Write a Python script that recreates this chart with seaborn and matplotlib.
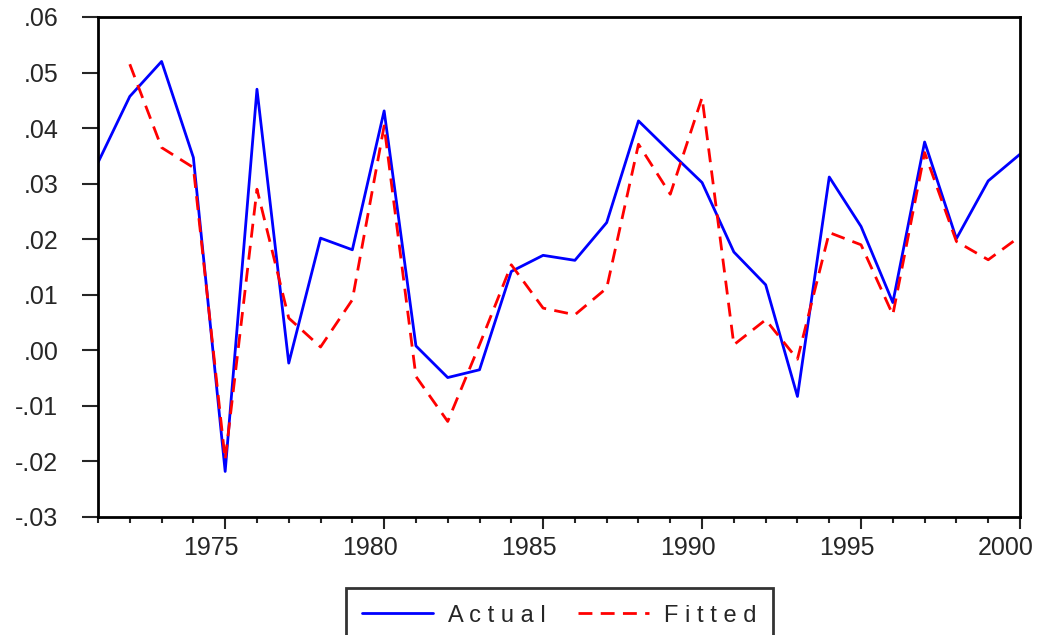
import seaborn as sns
import matplotlib.pyplot as plt
import matplotlib.transforms as mtransforms
import pandas as pd
import numpy as np
from matplotlib.ticker import FuncFormatter, MultipleLocator

# values
years_actual = list(range(1971, 2001))
actual = [0.0338, 0.0457, 0.0520, 0.0347, -0.0218, 0.0470, -0.0023, 0.0202, 0.0181, 0.0431,
          0.0008, -0.0049, -0.0035, 0.0142, 0.0171, 0.0162, 0.0230, 0.0413, 0.0357, 0.0302,
          0.0177, 0.0118, -0.0083, 0.0312, 0.0223, 0.0086, 0.0375, 0.0201, 0.0305, 0.0353]

years_fitted = list(range(1972, 2001))
fitted = [0.0515, 0.0365, 0.0329, -0.0197, 0.0290, 0.0058, 0.0006, 0.0091, 0.0404,
          -0.0047, -0.0128, 0.0010, 0.0154, 0.0076, 0.0064, 0.0112, 0.0371, 0.0281, 0.0455,
          0.0010, 0.0055, -0.0016, 0.0212, 0.0190, 0.0064, 0.0356, 0.0196, 0.0163, 0.0205]

df_actual = pd.DataFrame({"year": years_actual, "value": actual})
df_fitted = pd.DataFrame({"year": years_fitted, "value": fitted})

sns.set_style("ticks")
plt.rcParams['font.family'] = ['Liberation Sans', 'DejaVu Sans']

fig = plt.figure(figsize=(10.39, 6.35), dpi=100)
ax = fig.add_axes([98 / 1039, 1 - 517 / 635, (1020 - 98) / 1039, (517 - 17) / 635])

sns.lineplot(data=df_actual, x="year", y="value", ax=ax, color="#0000ff", lw=2.0,
             label="A c t u a l")
sns.lineplot(data=df_fitted, x="year", y="value", ax=ax, color="#ff0000", lw=2.0,
             label="F i t t e d")
ax.lines[1].set_dashes((5, 3))

ax.set_xlim(1971, 2000)
ax.set_ylim(-0.03, 0.06)
ax.set_xlabel("")
ax.set_ylabel("")

ax.xaxis.set_major_locator(MultipleLocator(5))
ax.xaxis.set_minor_locator(MultipleLocator(1))
ax.yaxis.set_major_locator(MultipleLocator(0.01))


def fmt(v, pos):
    s = f"{v:.2f}"
    if s == "-0.00":
        s = "0.00"
    return s.replace("0.", ".", 1)


ax.yaxis.set_major_formatter(FuncFormatter(fmt))

for sp in ax.spines.values():
    sp.set_visible(True)
    sp.set_linewidth(2.0)
    sp.set_color("black")

ax.tick_params(axis="y", direction="out", length=11.5, width=1.5, pad=17,
               labelsize=18, right=False)
ax.tick_params(axis="x", which="major", direction="out", length=8.5, width=1.5, pad=5,
               labelsize=18, top=False)
ax.tick_params(axis="x", which="minor", direction="out", length=4.3, width=1.5, top=False)

# year labels sit a little left of their ticks, as in the original
shift = mtransforms.ScaledTranslation(-14 / 100, 0, fig.dpi_scale_trans)
for lab in ax.get_xticklabels():
    lab.set_transform(lab.get_transform() + shift)

leg = ax.legend(loc="upper center", bbox_to_anchor=(559.5 / 1039, 1 - 588 / 635),
                bbox_transform=fig.transFigure, ncol=2, frameon=True, fancybox=False,
                fontsize=17, handlelength=3.0, columnspacing=1.35, borderpad=0.7,
                handletextpad=0.65, borderaxespad=0)
leg.get_frame().set_edgecolor("black")
leg.get_frame().set_linewidth(2.0)

fig.savefig("out.png", dpi=100)
